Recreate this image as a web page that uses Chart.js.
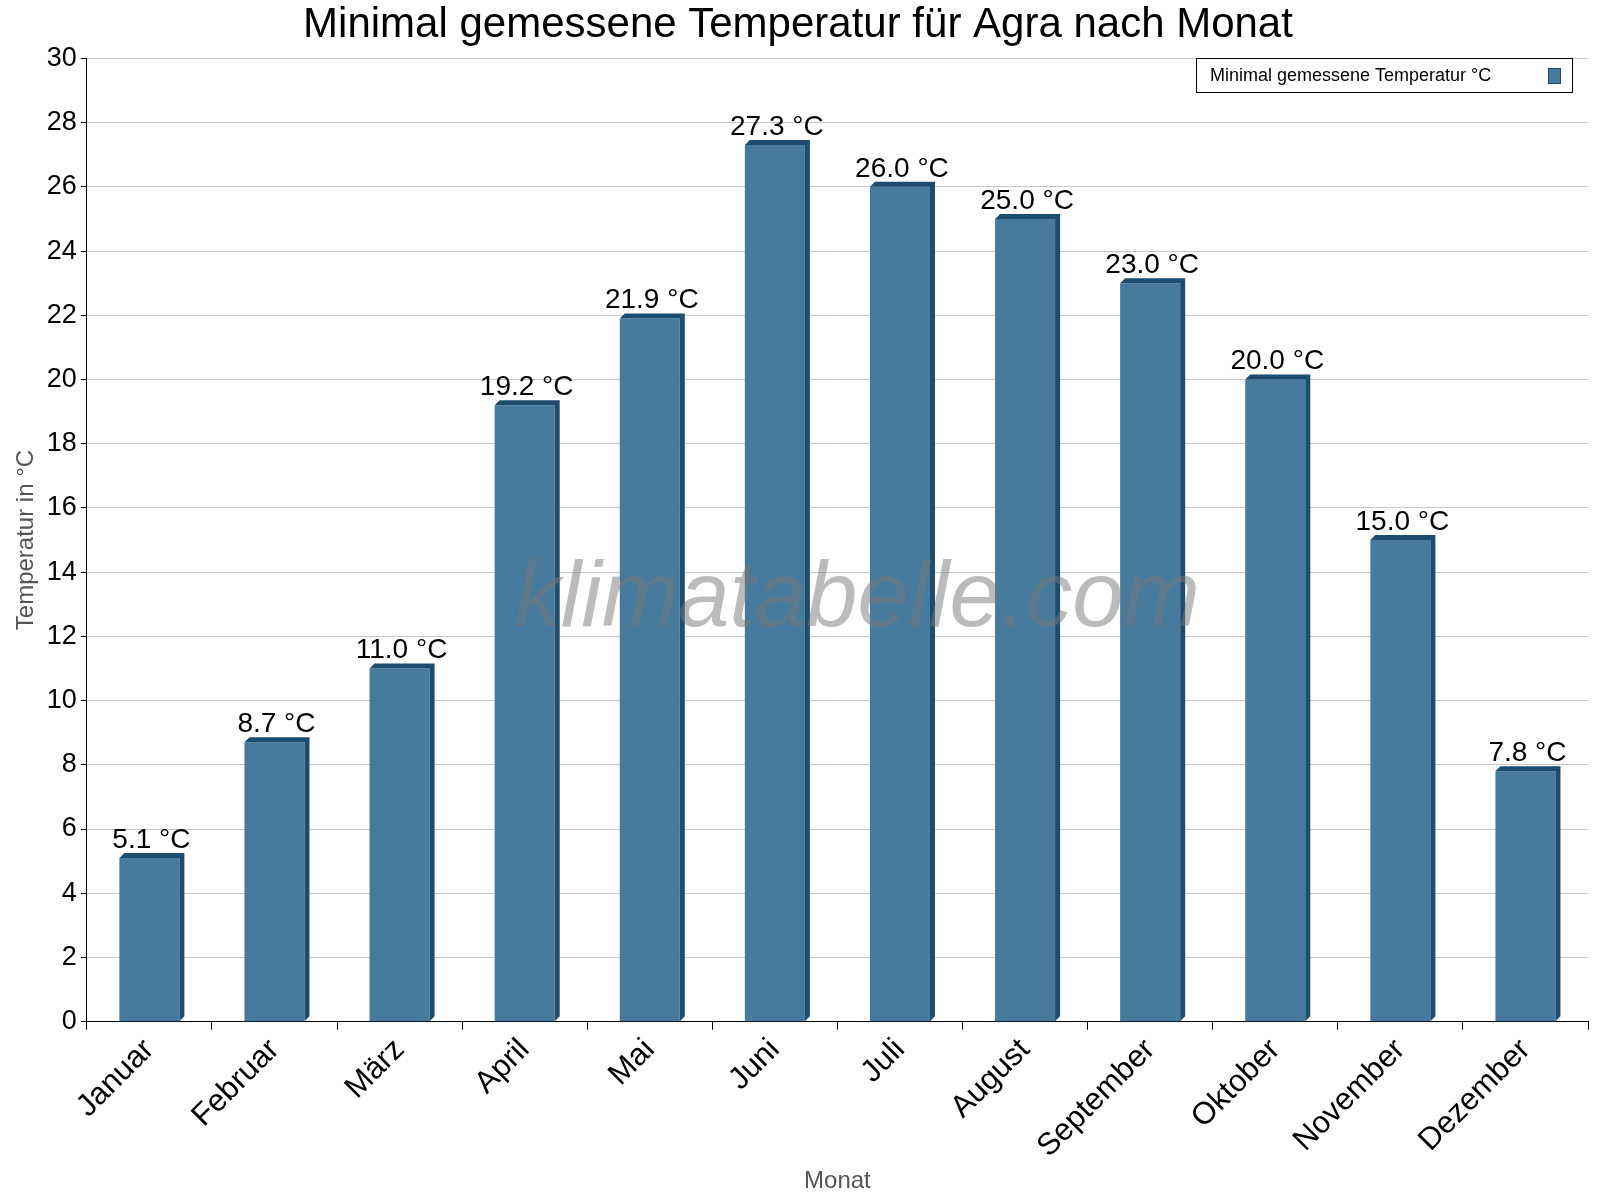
<!DOCTYPE html>
<html>
<head>
<meta charset="utf-8">
<script src="https://cdn.jsdelivr.net/npm/chart.js@4/dist/chart.umd.min.js"></script>
<style>body{margin:0;background:#fff}</style>
</head>
<body>
<canvas id="c" width="1600" height="1200"></canvas>
<script>
const months = ['Januar','Februar','März','April','Mai','Juni','Juli','August','September','Oktober','November','Dezember'];
const minTemp = [5.1, 8.7, 11.0, 19.2, 21.9, 27.3, 26.0, 25.0, 23.0, 20.0, 15.0, 7.8];
const seriesName = 'Minimal gemessene Temperatur °C';

const FONT = '"Liberation Sans", Arial, sans-serif';

// darker side + top to fake the 3d bars, then value labels, watermark, legend
const extras = {
  id: 'extras',
  afterDatasetsDraw(chart) {
    const ctx = chart.ctx;
    const meta = chart.getDatasetMeta(0);
    const d = 5;
    ctx.save();
    ctx.fillStyle = '#1d4d6e';
    meta.data.forEach((b, i) => {
      const l = b.x - b.width / 2, r = b.x + b.width / 2;
      ctx.beginPath();
      ctx.moveTo(l, b.y); ctx.lineTo(l + d, b.y - d); ctx.lineTo(r + d, b.y - d);
      ctx.lineTo(r + d, b.base - d); ctx.lineTo(r, b.base); ctx.lineTo(r, b.y);
      ctx.closePath(); ctx.fill();
    });
    ctx.fillStyle = '#000';
    ctx.font = '28px ' + FONT;
    ctx.textAlign = 'center';
    ctx.textBaseline = 'bottom';
    meta.data.forEach((b, i) => {
      ctx.fillText(minTemp[i].toFixed(1) + ' °C', b.x + 2, b.y - 4);
    });
    const a = chart.chartArea;
    ctx.font = 'italic 92px ' + FONT;
    ctx.fillStyle = 'rgba(120,120,120,0.5)';
    ctx.textBaseline = 'middle';
    ctx.fillText('klimatabelle.com', (a.left + a.right) / 2 + 20, 600);
    // legend
    ctx.fillStyle = '#fff';
    ctx.fillRect(1196, 58, 376, 34);
    ctx.strokeStyle = '#000'; ctx.lineWidth = 1;
    ctx.strokeRect(1196.5, 58.5, 376, 34);
    ctx.fillStyle = '#000';
    ctx.font = '18px ' + FONT;
    ctx.textAlign = 'left';
    ctx.fillText(seriesName, 1210, 76);
    ctx.fillStyle = '#467b9e';
    ctx.fillRect(1548, 68, 12, 15);
    ctx.strokeStyle = '#1d4d6e';
    ctx.strokeRect(1548.5, 68.5, 12, 15);
    ctx.restore();
  }
};

new Chart(document.getElementById('c'), {
  type: 'bar',
  data: {
    labels: months,
    datasets: [{
      label: seriesName,
      data: minTemp,
      backgroundColor: '#467b9e',
      barPercentage: 0.48,
      categoryPercentage: 1.0,
    }]
  },
  options: {
    responsive: false,
    animation: false,
    devicePixelRatio: 1,
    layout: { padding: { left: 8, right: 12, top: 0, bottom: 0 } },
    plugins: {
      legend: { display: false },
      tooltip: { enabled: false },
      title: {
        display: true,
        text: 'Minimal gemessene Temperatur für Agra nach Monat',
        color: '#000',
        font: { family: FONT, size: 42, weight: 'normal' },
        padding: { top: 0, bottom: 8 },
      },
    },
    scales: {
      x: {
        grid: { display: true, drawOnChartArea: false, offset: true, color: '#000', tickLength: 8 },
        border: { color: '#000' },
        ticks: { color: '#000', font: { family: FONT, size: 31 }, maxRotation: 45, minRotation: 45, padding: 2 },
        title: { display: true, text: 'Monat', color: '#555', font: { family: FONT, size: 24 }, padding: { top: 0 } },
      },
      y: {
        min: 0, max: 30,
        ticks: { stepSize: 2, color: '#000', font: { family: FONT, size: 27 }, padding: 4 },
        grid: { color: '#c8c8c8', tickColor: '#000', tickLength: 6, borderDash: [2, 3] },
        border: { color: '#000' },
        title: { display: true, text: 'Temperatur in °C', color: '#555', font: { family: FONT, size: 24 }, padding: { bottom: 2 } },
      }
    }
  },
  plugins: [extras]
});
</script>
</body>
</html>
